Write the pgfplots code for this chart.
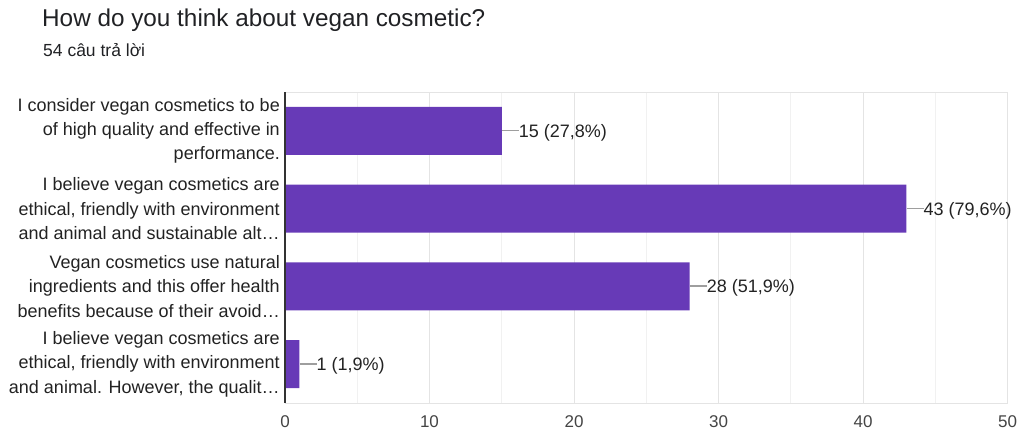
\documentclass[border=0pt]{standalone}
\usepackage{pgfplots}
\pgfplotsset{compat=1.18}
\usepackage{fontspec}
\setmainfont{Liberation Sans}
\definecolor{barc}{HTML}{673AB7}
\definecolor{txt}{HTML}{222222}
\definecolor{ttl}{HTML}{202124}
\definecolor{tickc}{HTML}{444444}
\definecolor{gridc}{HTML}{E4E4E4}
\definecolor{mgridc}{HTML}{F1F1F1}
\definecolor{conn}{HTML}{9E9E9E}
\definecolor{axc}{HTML}{333333}
\begin{document}
\begin{tikzpicture}
\useasboundingbox (0,0) rectangle (1019pt,434pt);
\node[anchor=base west, inner sep=0pt, font=\fontsize{24.3}{28}\selectfont, text=ttl] at (42pt,407pt) {How do you think about vegan cosmetic?};
\node[anchor=base west, inner sep=0pt, font=\fontsize{17.5}{20}\selectfont, text=ttl] at (43pt,377pt) {54 câu trả lời};
\begin{axis}[
  at={(285pt,31pt)}, anchor=south west,
  scale only axis, width=722.5pt, height=311pt,
  xbar, bar width=48pt,
  xmin=0, xmax=50, ymin=-0.5, ymax=3.5, y dir=reverse,
  xtick={0,10,...,50}, minor xtick={5,15,...,45},
  ytick={0,1,2,3},
  yticklabels={{I consider vegan cosmetics to be\\of high quality and effective in\\performance.},
    {I believe vegan cosmetics are\\ethical, friendly with environment\\and animal and sustainable alt…},
    {Vegan cosmetics use natural\\ingredients and this offer health\\benefits because of their avoid…},
    {I believe vegan cosmetics are\\ethical, friendly with environment\\and animal. However, the qualit…}},
  xmajorgrids, xminorgrids,
  major grid style={gridc, line width=1pt},
  minor grid style={mgridc, line width=1pt},
  axis line style={draw=none},
  major tick length=0pt, minor tick length=0pt,
  tick style={draw=none},
  xticklabel style={inner sep=0pt, yshift=-12pt, font=\fontsize{17}{20}\selectfont, text=tickc},
  yticklabel style={align=right, inner sep=0pt, xshift=-5pt, font=\fontsize{18}{24.3}\selectfont, text=txt},
  /pgf/number format/assume math mode=true,
  point meta=explicit symbolic,
  nodes near coords={\textcolor{conn}{\rule[6pt]{17pt}{1.3pt}}\pgfplotspointmeta},
  every node near coord/.append style={anchor=base west, inner sep=0pt, yshift=-6.4pt, font=\fontsize{18}{20}\selectfont, text=txt},
  clip=false,
]
\addplot[fill=barc, draw=none] table[x=x, y=y, meta=lab, row sep=\\] {
x y lab\\
15 0 {15 (27,8\%)}\\
43 1 {43 (79,6\%)}\\
28 2 {28 (51,9\%)}\\
1 3 {1 (1,9\%)}\\
};
\draw[gridc, line width=1pt] (rel axis cs:0,0) -- (rel axis cs:1,0);
\draw[gridc, line width=1pt] (rel axis cs:0,1) -- (rel axis cs:1,1);
\draw[axc, line width=1.2pt] (rel axis cs:0,0) -- (rel axis cs:0,1);
\end{axis}
\end{tikzpicture}
\end{document}
